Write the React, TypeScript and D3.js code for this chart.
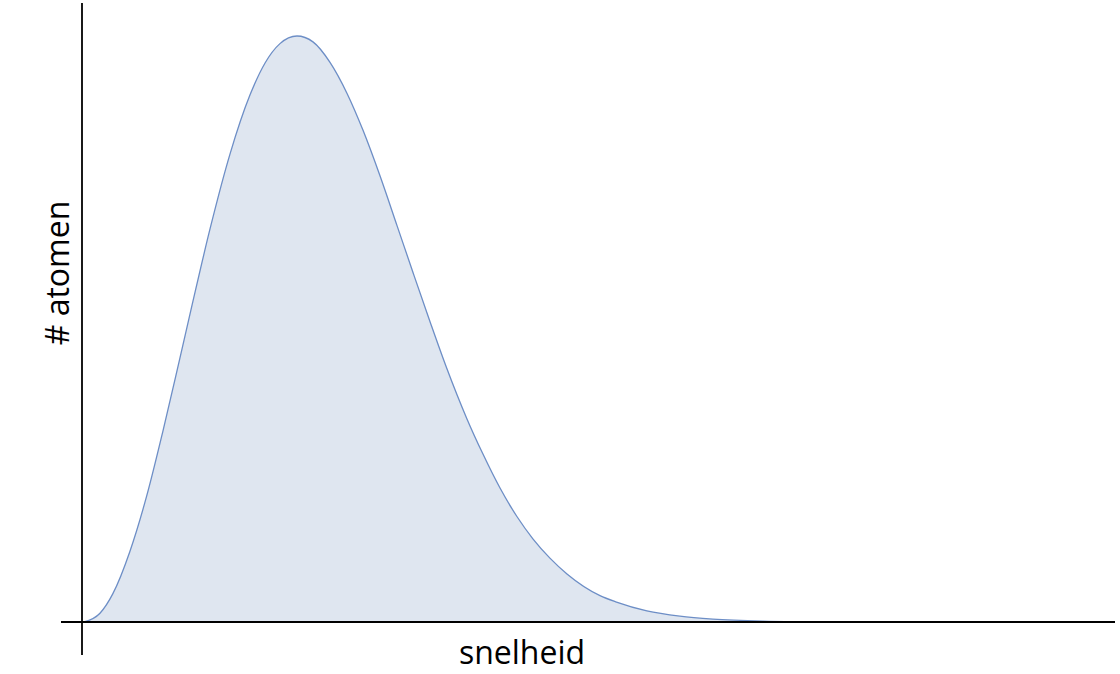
import React from "react";
import * as d3 from "d3";

// speed (arbitrary units) and relative number of atoms
const speeds = [0, 30, 54, 86, 118, 148, 180, 203, 237, 274, 312, 340, 368, 400, 430, 462, 494, 524, 556, 588, 618, 650, 680, 719, 749, 781, 813, 843, 875, 907, 969, 1000, 1057, 1119, 1181, 1275, 1345, 1420];
const counts = [0, 1.5, 4.8, 12.0, 21.6, 32.5, 45.0, 54.1, 67.2, 79.8, 90.0, 95.4, 98.7, 100, 99.0, 95.5, 90.2, 83.9, 76.1, 67.6, 59.6, 51.2, 43.6, 34.7, 28.7, 22.9, 18.0, 14.2, 10.9, 8.2, 4.5, 3.4, 1.9, 1.0, 0.5, 0.15, 0.05, 0];

const xLabel = "snelheid";
const yLabel = "# atomen";

const W = 1120;
const H = 674;

export default function App() {
  const x = d3.scaleLinear().domain([0, 1000]).range([84, 616.5]);
  const y = d3.scaleLinear().domain([0, 100]).range([622, 36]);
  const pts = speeds.map((s, i) => [s, counts[i]] as [number, number]);
  const area = d3
    .area<[number, number]>()
    .x((d) => x(d[0]))
    .y0(y(0))
    .y1((d) => y(d[1]))
    .curve(d3.curveMonotoneX);
  const line = d3
    .line<[number, number]>()
    .x((d) => x(d[0]))
    .y((d) => y(d[1]))
    .curve(d3.curveMonotoneX);

  return (
    <svg
      width={W}
      height={H}
      style={{ position: "absolute", left: 0, top: 0, background: "#fff" }}
    >
      <path d={area(pts) || ""} fill="#dfe6f0" stroke="none" />
      <path d={line(pts) || ""} fill="none" stroke="#6d8ec6" strokeWidth={1.3} />
      <line x1={82} x2={82} y1={3} y2={655} stroke="#000" strokeWidth={1.8} />
      <line x1={61} x2={1115} y1={y(0)} y2={y(0)} stroke="#000" strokeWidth={1.8} />
      <text
        x={522}
        y={664}
        textAnchor="middle"
        fontFamily="'Open Sans', sans-serif"
        fontSize={32}
        fill="#000"
      >
        {xLabel}
      </text>
      <text
        transform="translate(69,273) rotate(-90)"
        textAnchor="middle"
        fontFamily="'Open Sans', sans-serif"
        fontSize={32}
        fill="#000"
      >
        {yLabel}
      </text>
    </svg>
  );
}
